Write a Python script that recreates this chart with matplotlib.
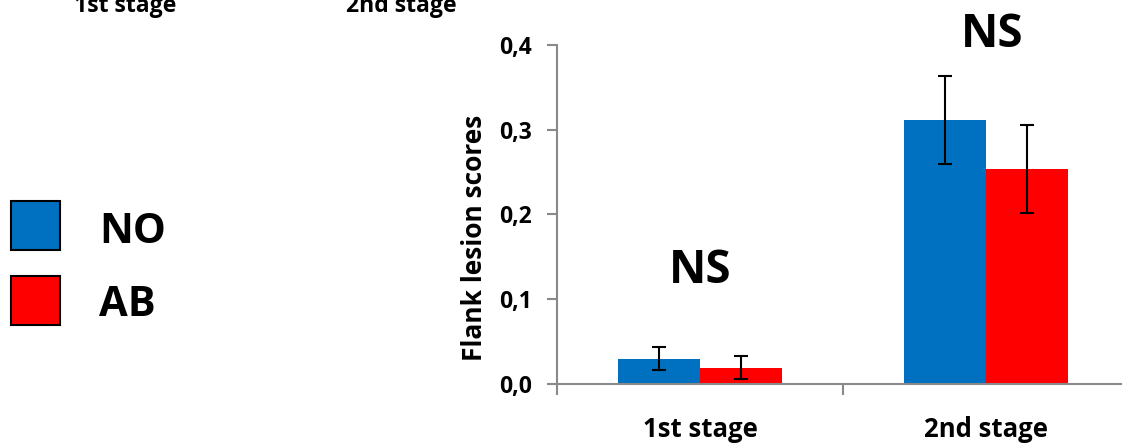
import matplotlib
matplotlib.use("Agg")
import matplotlib.pyplot as plt
import numpy as np
from matplotlib.patches import Rectangle

plt.rcParams['font.family'] = ['Open Sans', 'DejaVu Sans']

categories = ["1st stage", "2nd stage"]
groups = ["NO", "AB"]
no_values = [0.030, 0.312]
ab_values = [0.019, 0.254]
no_err = [0.014, 0.052]
ab_err = [0.0135, 0.052]
y_ticks = [0.0, 0.1, 0.2, 0.3, 0.4]
y_tick_labels = ["0,0", "0,1", "0,2", "0,3", "0,4"]
sig_labels = ["NS", "NS"]
colors = ["#0070C0", "#FF0000"]

W, H = 1122, 443
fig = plt.figure(figsize=(W / 100, H / 100), dpi=100)
ax = fig.add_axes([557 / W, 59 / H, 572 / W, 339 / H])

x = np.arange(len(categories))
bw = 0.287
ax.bar(x - bw / 2, no_values, bw, color=colors[0], zorder=2)
ax.bar(x + bw / 2, ab_values, bw, color=colors[1], zorder=2)
ekw = dict(fmt='none', ecolor='black', elinewidth=1.5, capsize=5, capthick=1.5, zorder=3)
ax.errorbar(x - bw / 2, no_values, yerr=no_err, **ekw)
ax.errorbar(x + bw / 2, ab_values, yerr=ab_err, **ekw)

ax.set_xlim(-0.5, len(categories) - 0.5)
ax.set_ylim(0, 0.4)
ax.set_yticks(y_ticks)
ax.set_yticklabels(y_tick_labels, fontsize=16.5, fontweight='bold')
ax.set_xticks(np.arange(len(categories) + 1) - 0.5)
ax.set_xticklabels([])
ax.set_xticks(x, minor=True)
ax.set_xticklabels(categories, minor=True, fontsize=18.5, fontweight='bold')
ax.tick_params(axis='x', which='minor', length=0, pad=23)
ax.tick_params(axis='x', which='major', length=8, width=1.5, color='#898989', direction='out')
ax.tick_params(axis='y', length=7, width=1.5, color='#898989', direction='out', pad=11)
for s in ['top', 'right']:
    ax.spines[s].set_visible(False)
for s in ['left', 'bottom']:
    ax.spines[s].set_color('#898989')
    ax.spines[s].set_linewidth(1.5)
ax.set_ylabel("Flank lesion scores", fontsize=19, fontweight='bold')
ax.yaxis.set_label_coords((488 - 557) / 572, (384 - 237.5) / 339)

# significance labels (baseline positioned)
ax.text(x[0], (384 - 283) / 847.5, sig_labels[0], ha='center', va='baseline', fontsize=33, fontweight='bold')
ax.text(x[1] + 0.02, (384 - 47) / 847.5, sig_labels[1], ha='center', va='baseline', fontsize=33,
        fontweight='bold', clip_on=False)

# legend
box_tops = [201, 276]
label_baselines = [243, 316]
for i, (g, c) in enumerate(zip(groups, colors)):
    y0 = box_tops[i]
    fig.patches.append(Rectangle((11 / W, 1 - (y0 + 49) / H), 49 / W, 49 / H, transform=fig.transFigure,
                                 facecolor=c, edgecolor='black', linewidth=1.5))
    fig.text(99 / W, 1 - label_baselines[i] / H, g, ha='left', va='baseline', fontsize=30, fontweight='bold')

# clipped header labels at the top (cut off in the original too)
fig.text(125 / W, 1 - 12.5 / H, categories[0], ha='center', va='baseline', fontsize=16.6, fontweight='bold')
fig.text(401 / W, 1 - 12.5 / H, categories[1], ha='center', va='baseline', fontsize=16.6, fontweight='bold')

fig.savefig("out.png", dpi=100)
